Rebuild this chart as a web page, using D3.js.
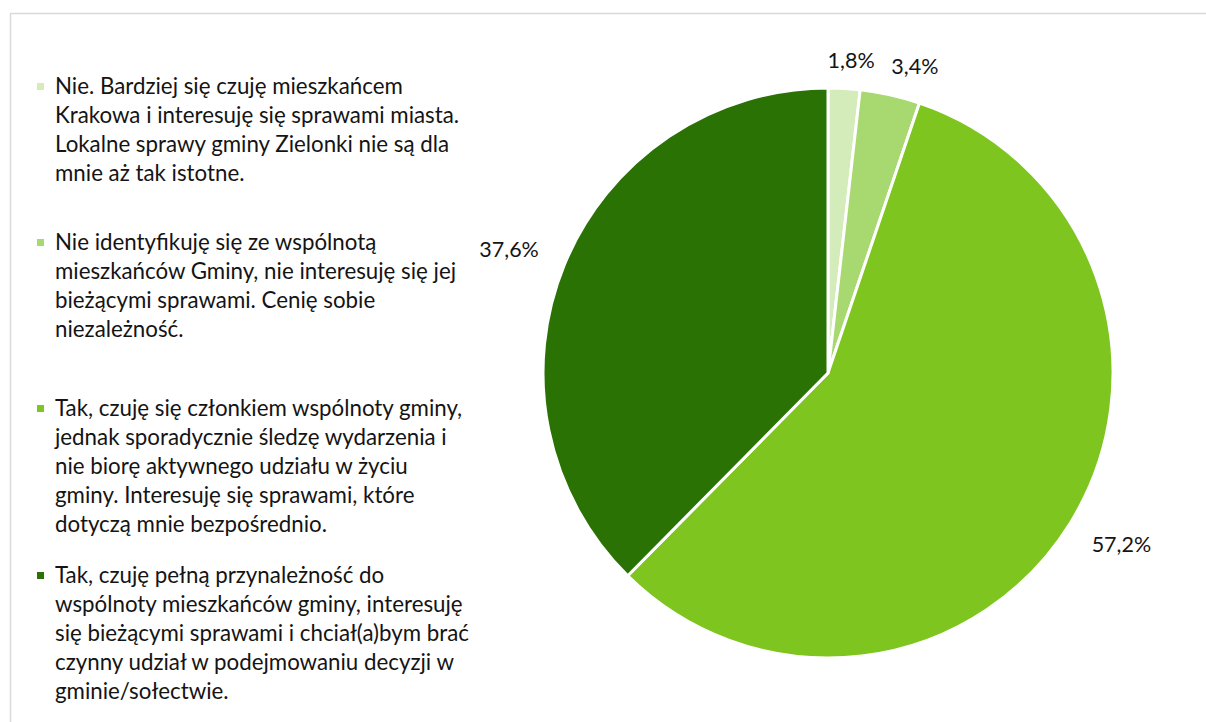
<!DOCTYPE html>
<html>
<head>
<meta charset="utf-8">
<script src="https://cdn.jsdelivr.net/npm/d3@7"></script>
<style>
  html, body { margin: 0; padding: 0; background: #ffffff; }
  svg { display: block; }
  text { font-family: Lato, "Open Sans", sans-serif; fill: #141414; }
</style>
</head>
<body>
<svg id="chart" width="1206" height="722"></svg>
<script>
// ---- data ----
const categories = [
  "Nie. Bardziej się czuję mieszkańcem\nKrakowa i interesuję się sprawami miasta.\nLokalne sprawy gminy Zielonki nie są dla\nmnie aż tak istotne.",
  "Nie identyfikuję się ze wspólnotą\nmieszkańców Gminy, nie interesuję się jej\nbieżącymi sprawami. Cenię sobie\nniezależność.",
  "Tak, czuję się członkiem wspólnoty gminy,\njednak sporadycznie śledzę wydarzenia i\nnie biorę aktywnego udziału w życiu\ngminy. Interesuję się sprawami, które\ndotyczą mnie bezpośrednio.",
  "Tak, czuję pełną przynależność do\nwspólnoty mieszkańców gminy, interesuję\nsię bieżącymi sprawami i chciał(a)bym brać\nczynny udział w podejmowaniu decyzji w\ngminie/sołectwie."
];
const values = [1.8, 3.4, 57.2, 37.6];
const valueLabels = ["1,8%", "3,4%", "57,2%", "37,6%"];
const colors = ["#d3ecba", "#a8d870", "#7ec520", "#2b7204"];

// ---- layout ----
const W = 1206, H = 722;
const cx = 828, cy = 373, R = 285;
const legendX = 37, legendTextX = 55, lineH = 29;
const legendBaselines = [94, 250, 416, 583];
const fontSize = 22.3;
const labelFont = 21.5;
const labelGap = 30, labelH = 22;
const labelNudge = [[4, 12], [13, 11], [0, 0], [0, 0]];

const svg = d3.select("#chart");

// frame
svg.append("rect")
  .attr("x", 10.5).attr("y", 13.5)
  .attr("width", W + 20).attr("height", H + 20)
  .attr("fill", "none").attr("stroke", "#d9d9d9").attr("stroke-width", 1.5);

const pie = d3.pie().sort(null).value(d => d)(values);
const arc = d3.arc().innerRadius(0).outerRadius(R);

const g = svg.append("g").attr("transform", `translate(${cx},${cy})`);
g.selectAll("path.slice")
  .data(pie)
  .join("path")
  .attr("class", "slice")
  .attr("d", arc)
  .attr("fill", (d, i) => colors[i])
  .attr("stroke", "#ffffff")
  .attr("stroke-width", 3)
  .attr("stroke-linejoin", "round");

// data labels (outside end)
const labels = g.selectAll("text.lbl")
  .data(pie)
  .join("text")
  .attr("class", "lbl")
  .attr("font-size", labelFont)
  .attr("text-anchor", "middle")
  .attr("dominant-baseline", "central")
  .text((d, i) => valueLabels[i]);

labels.each(function(d, i) {
  const w = this.getComputedTextLength();
  const a = (d.startAngle + d.endAngle) / 2;
  const s = Math.sin(a), c = Math.cos(a);
  const x = (R + labelGap) * s + s * w / 2 + labelNudge[i][0];
  const y = -(R + labelGap) * c - c * labelH / 2 + labelNudge[i][1];
  d3.select(this).attr("x", x).attr("y", y);
});

// legend
const leg = svg.append("g");
categories.forEach((cat, i) => {
  const lines = cat.split("\n");
  const by = legendBaselines[i];
  leg.append("rect")
    .attr("x", legendX).attr("y", by - 11)
    .attr("width", 7).attr("height", 7)
    .attr("fill", colors[i]);
  const t = leg.append("text")
    .attr("x", legendTextX).attr("y", by)
    .attr("font-size", fontSize);
  lines.forEach((ln, j) => {
    t.append("tspan")
      .attr("x", legendTextX)
      .attr("y", by + j * lineH)
      .text(ln);
  });
});
</script>
</body>
</html>
